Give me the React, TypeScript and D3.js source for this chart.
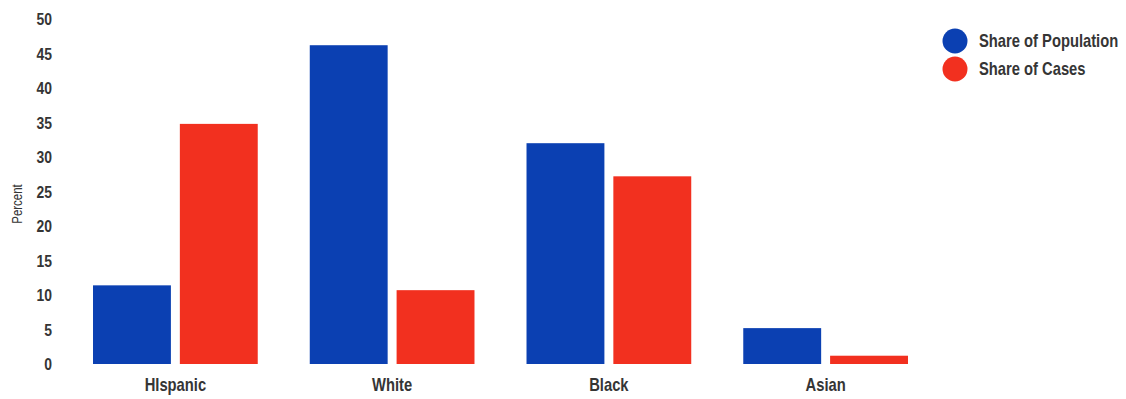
import * as d3 from "d3";

const categories = ["HIspanic", "White", "Black", "Asian"];
const seriesNames = ["Share of Population", "Share of Cases"];
const population = [11.4, 46.2, 32.0, 5.2];
const cases = [34.8, 10.7, 27.2, 1.2];
const yTicks = [0, 5, 10, 15, 20, 25, 30, 35, 40, 45, 50];

const colors = ["#0b40b2", "#f2301f"];
const textFill = "#353535";
const squeeze = 0.82; // reference text is horizontally condensed

function NText({ x, y, size, anchor = "start", bold = true, rotate = 0, children }: any) {
  return (
    <text
      transform={`translate(${x},${y}) rotate(${rotate}) scale(${squeeze},1)`}
      dy="0.36em"
      textAnchor={anchor}
      fontSize={size}
      fontWeight={bold ? "bold" : "normal"}
      fill={textFill}
    >
      {children}
    </text>
  );
}

export default function App() {
  const width = 1126;
  const height = 399;
  const y0 = 364;
  const y1 = 19;

  const x = d3.scaleBand<string>().domain(categories).range([67, 934]).paddingInner(0.24).paddingOuter(0.12);
  const xs = d3.scaleBand<string>().domain(seriesNames).range([0, x.bandwidth()]).paddingInner(0.103);
  const y = d3.scaleLinear().domain([0, 50]).range([y0, y1]);

  const series = [population, cases];

  return (
    <div style={{ position: "fixed", left: 0, top: 0 }}>
      <svg width={width} height={height} style={{ display: "block", background: "#fff" }} fontFamily="'Liberation Sans', Arial, sans-serif">
        {yTicks.map((t) => (
          <NText key={t} x={52} y={y(t)} size={17} anchor="end">
            {t}
          </NText>
        ))}
        <NText x={17} y={204} size={14} anchor="middle" bold={false} rotate={-90}>
          Percent
        </NText>
        {categories.map((c, i) => (
          <g key={c} transform={`translate(${x(c)},0)`}>
            {series.map((s, j) => (
              <rect
                key={j}
                x={xs(seriesNames[j])}
                y={y(s[i])}
                width={xs.bandwidth()}
                height={y0 - y(s[i])}
                fill={colors[j]}
              />
            ))}
            <NText x={x.bandwidth() / 2} y={385} size={18} anchor="middle">
              {c}
            </NText>
          </g>
        ))}
        {seriesNames.map((n, j) => (
          <g key={n} transform={`translate(955,${41 + j * 28})`}>
            <circle r={12.5} fill={colors[j]} />
            <NText x={24} y={0} size={18}>
              {n}
            </NText>
          </g>
        ))}
      </svg>
    </div>
  );
}
